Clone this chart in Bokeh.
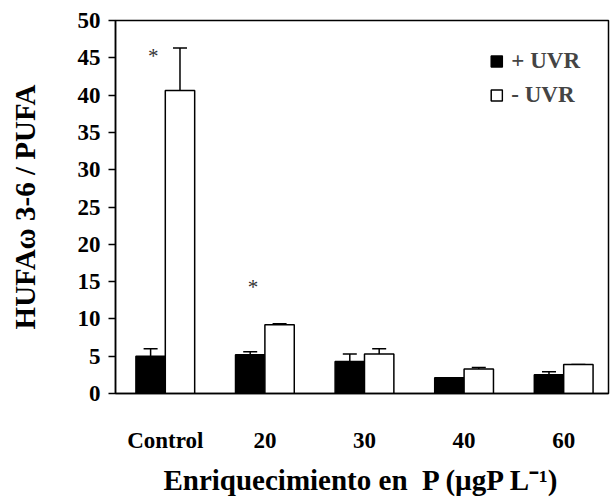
import numpy as np
from bokeh.plotting import figure
from bokeh.models import ColumnDataSource, Whisker, TeeHead, FixedTicker, Range1d, Legend, LegendItem
from bokeh.core.properties import value
from bokeh.embed import file_html
from bokeh.resources import INLINE

categories = ["Control", "20", "30", "40", "60"]
uvr_plus = [5.0, 5.2, 4.3, 2.1, 2.5]
uvr_plus_err = [1.0, 0.4, 1.0, 0.0, 0.4]
uvr_minus = [40.6, 9.2, 5.3, 3.3, 3.9]
uvr_minus_err = [5.7, 0.15, 0.7, 0.2, 0.0]
star_cats = ["Control", "20"]
star_vals = [45.3, 14.3]
y_ticks = [0, 5, 10, 15, 20, 25, 30, 35, 40, 45, 50]

FONT = "Liberation Serif"
bw = 0.295
idx = np.arange(len(categories)) + 0.5

p = figure(width=610, height=498, output_backend="svg", toolbar_location=None,
           x_range=Range1d(0, 4.95), y_range=Range1d(0, 50),
           min_border_left=115, min_border_right=2, min_border_top=20, min_border_bottom=103)

src_p = ColumnDataSource(dict(x=idx - bw / 2, top=uvr_plus,
                              up=[v + e for v, e in zip(uvr_plus, uvr_plus_err)]))
src_m = ColumnDataSource(dict(x=idx + bw / 2, top=uvr_minus,
                              up=[v + e for v, e in zip(uvr_minus, uvr_minus_err)]))

for src in (src_p, src_m):
    w = Whisker(base="x", lower="top", upper="up", source=src, line_color="black", line_width=1.5,
                upper_head=TeeHead(size=14, line_color="black", line_width=1.5), lower_head=None)
    p.add_layout(w)

r1 = p.vbar(x="x", top="top", width=bw, bottom=0, source=src_p, fill_color="black",
            line_color="black", line_width=1.5)
r2 = p.vbar(x="x", top="top", width=bw, bottom=0, source=src_m, fill_color="white",
            line_color="black", line_width=1.5)

star_x = [idx[categories.index(c)] - 0.12 for c in star_cats]
p.text(x=star_x, y=star_vals, text=["*"] * len(star_x), text_align="center", text_baseline="middle",
       text_font=value(FONT), text_font_size="21px", text_color="#333333")

p.grid.visible = False
p.outline_line_color = "black"
p.outline_line_width = 1.5

p.xaxis.ticker = FixedTicker(ticks=list(idx))
p.xaxis.major_label_overrides = {float(i): c for i, c in zip(idx, categories)}
p.xaxis.major_tick_line_color = None
p.xaxis.minor_tick_line_color = None
p.xaxis.axis_line_color = "black"
p.xaxis.axis_line_width = 1.5
p.xaxis.major_label_standoff = 28
p.xaxis.major_label_text_font = FONT
p.xaxis.major_label_text_font_style = "bold"
p.xaxis.major_label_text_font_size = "23px"
p.xaxis.major_label_text_color = "black"
p.xaxis.axis_label = "Enriquecimiento en\u00a0 P (µgP L\u207b\u00b9)"
p.xaxis.axis_label_text_font = FONT
p.xaxis.axis_label_text_font_style = "bold"
p.xaxis.axis_label_text_font_size = "29px"
p.xaxis.axis_label_text_color = "black"
p.xaxis.axis_label_standoff = 8

p.yaxis.ticker = FixedTicker(ticks=y_ticks)
p.yaxis.minor_tick_line_color = None
p.yaxis.major_tick_in = 0
p.yaxis.major_tick_out = 7
p.yaxis.major_tick_line_width = 1.5
p.yaxis.axis_line_width = 1.5
p.yaxis.major_label_standoff = 8
p.yaxis.major_label_text_font = FONT
p.yaxis.major_label_text_font_style = "bold"
p.yaxis.major_label_text_font_size = "23px"
p.yaxis.major_label_text_color = "black"
p.yaxis.axis_label = "HUFAω 3-6 / PUFA"
p.yaxis.axis_label_text_font = FONT
p.yaxis.axis_label_text_font_style = "bold"
p.yaxis.axis_label_text_font_size = "29px"
p.yaxis.axis_label_text_color = "black"
p.yaxis.axis_label_standoff = 34

legend = Legend(items=[LegendItem(label="+ UVR", renderers=[r1]), LegendItem(label="- UVR", renderers=[r2])],
                location="top_right", border_line_color=None, background_fill_alpha=0,
                label_text_font=FONT, label_text_font_style="bold", label_text_font_size="23px",
                glyph_width=14, glyph_height=14, spacing=8, margin=28, padding=8, label_standoff=8)
p.add_layout(legend)

open("out.html", "w").write(file_html(p, INLINE))
